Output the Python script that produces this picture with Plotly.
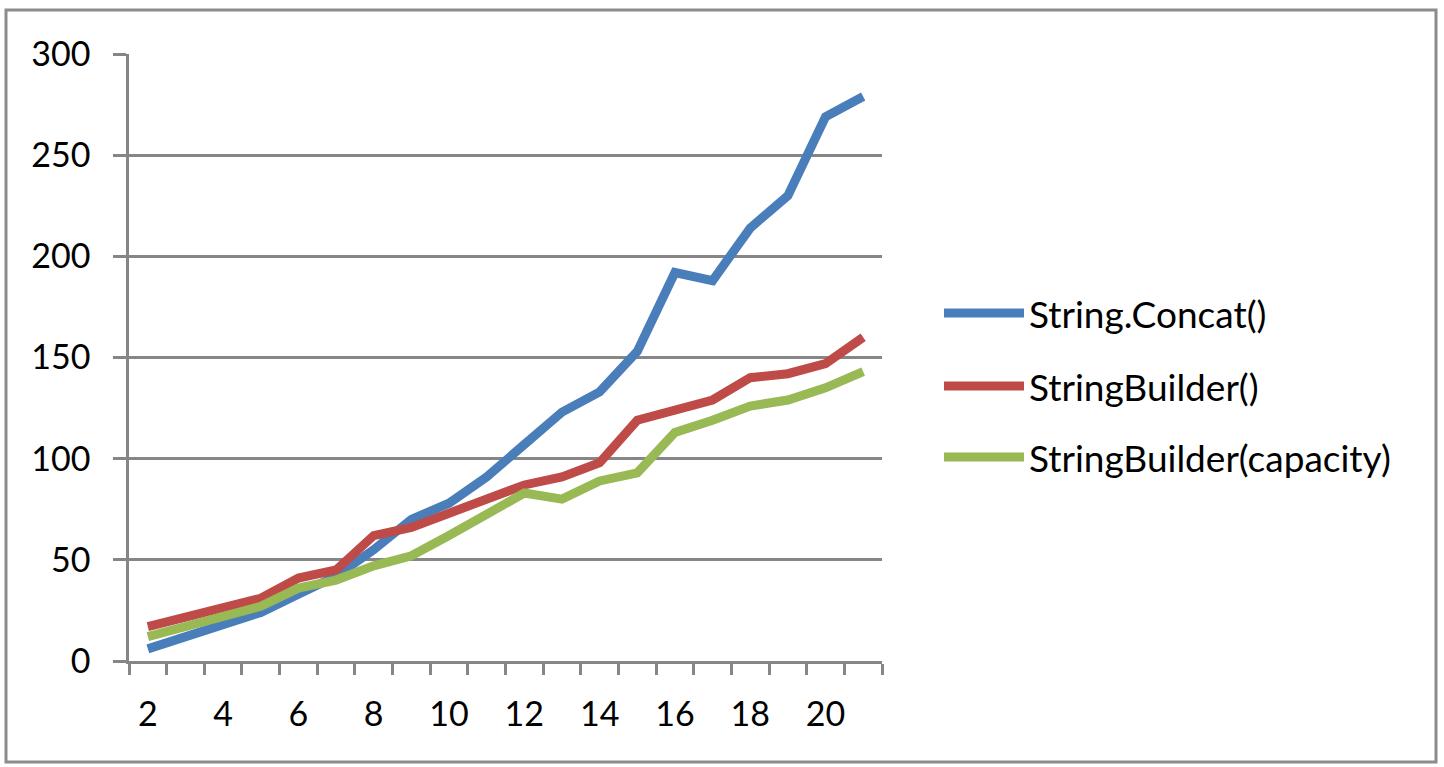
import plotly.graph_objects as go

x_vals = list(range(2, 22))
x_tick_labels = [str(v) for v in range(2, 21, 2)]
series_names = ["String.Concat()", "StringBuilder()", "StringBuilder(capacity)"]
concat_vals = [6, 12, 17, 24, 33, 42, 55, 70, 78, 91, 107, 123, 133, 153, 192, 188, 214, 230, 269, 279]
sb_vals = [17, 22, 27, 31, 41, 45, 62, 66, 73, 80, 87, 91, 98, 119, 124, 129, 140, 142, 147, 160]
sbcap_vals = [12, 17, 22, 27, 36, 40, 47, 52, 62, 72, 83, 80, 89, 93, 113, 119, 126, 129, 135, 143]
y_ticks = [0, 50, 100, 150, 200, 250, 300]

colors = ["#4A7EBB", "#BE4B48", "#98B954"]
GRAY = "#868686"
FONT = "Lato"
FS = 34
LEG_FS = 37

W, H = 1444, 767
L, R, T, B = 129, 882, 54, 661
pw, ph = R - L, B - T


def px(xp):
    return (xp - L) / pw


def py(yp):
    return (B - yp) / ph


fig = go.Figure()
for name, vals, c in zip(series_names, [concat_vals, sb_vals, sbcap_vals], colors):
    fig.add_trace(go.Scatter(x=x_vals, y=vals, mode="lines", name=name,
                             line=dict(color=c, width=9), showlegend=False))

shapes = [dict(type="rect", xref="paper", yref="paper",
               x0=px(6), x1=px(1436), y0=py(762), y1=py(10),
               line=dict(color="#8C8C8C", width=3), layer="below")]
annotations = []
legend_y = [313, 386, 457]
for name, c, yy in zip(series_names, colors, legend_y):
    shapes.append(dict(type="line", xref="paper", yref="paper",
                       x0=px(944), x1=px(1024), y0=py(yy), y1=py(yy),
                       line=dict(color=c, width=9)))
    annotations.append(dict(xref="paper", yref="paper", x=px(1027), y=py(yy),
                            text=name, showarrow=False, xanchor="left", yanchor="middle",
                            font=dict(family=FONT, size=LEG_FS, color="#000000")))

fig.update_layout(
    width=W, height=H,
    margin=dict(l=L, r=W - R, t=T, b=H - B, pad=0),
    paper_bgcolor="white", plot_bgcolor="white",
    font=dict(family=FONT, size=FS, color="#000000"),
    shapes=shapes, annotations=annotations,
    xaxis=dict(range=[1.5, 21.5], tickmode="array",
               tickvals=list(range(2, 21, 2)), ticktext=x_tick_labels,
               ticks="", showgrid=False, zeroline=False,
               showline=True, linecolor=GRAY, linewidth=2.5,
               ticklabelstandoff=21,
               minor=dict(tickmode="array", tickvals=[v + 0.5 for v in range(1, 22)],
                          ticks="outside", ticklen=11, tickwidth=2.5, tickcolor=GRAY,
                          showgrid=False)),
    yaxis=dict(range=[0, 300], tickmode="array", tickvals=y_ticks,
               ticks="outside", ticklen=13, tickwidth=2.5, tickcolor=GRAY,
               showgrid=True, gridcolor=GRAY, gridwidth=2.5,
               zeroline=False, showline=True, linecolor=GRAY, linewidth=2.5,
               ticklabelstandoff=16),
)

fig.write_html("out.html", config={"displayModeBar": False},
               post_script="document.body.style.margin='0';")
